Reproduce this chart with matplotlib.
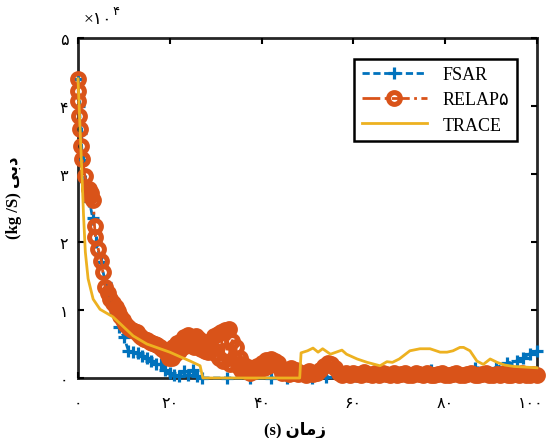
import numpy as np
import matplotlib
matplotlib.use('Agg')
import matplotlib.pyplot as plt
import matplotlib.transforms as mtransforms

# valores em unidades de 10^4 kg/s
fsar_t = [0, 0.3, 0.6, 1.0, 1.5, 2.5, 3.2, 4.0, 5.0, 6.0, 7.0, 8.0, 9.0, 10.0, 11.0, 12.0,
          13.0, 14.0, 15.0, 16.0, 17.0, 18.0, 19.0, 20.0, 21.0, 22.0, 23.0, 24.0, 25.0, 26.0,
          27.0, 32.5, 37.5, 42.0, 45.5, 51.0, 54.0, 60.5, 66.0, 71.0, 77.0, 82.0, 86.5,
          91.0, 93.5, 95.6, 97.0, 98.5, 100.0]
fsar_y = [4.40, 4.00, 3.60, 3.20, 2.90, 2.60, 2.35, 2.00, 1.70, 1.40, 1.15, 0.95, 0.75, 0.60,
          0.40, 0.38, 0.37, 0.33, 0.30, 0.25, 0.20, 0.20, 0.12, 0.08, 0.05, 0.03, 0.10, 0.05,
          0.12, 0.03, 0.00, 0.00, 0.00, 0.00, 0.00, 0.00, 0.02, 0.03, 0.06, 0.08, 0.12, 0.08,
          0.15, 0.15, 0.22, 0.25, 0.30, 0.36, 0.40]

relap_t = [0, 0.05, 0.1, 0.2, 0.4, 0.6, 0.9, 1.5, 2.3, 2.6, 2.9, 3.3, 3.6, 3.8, 4.4, 5.1,
           5.4, 5.9, 6.5, 7.0, 7.6, 8.2, 8.7, 9.2, 9.7, 10.2, 10.7, 11.2, 11.7, 12.2, 12.8,
           13.3, 13.8, 14.4, 15.0, 15.6, 16.2, 16.7, 17.2, 17.8, 18.3, 18.9, 19.4, 19.9,
           20.4, 20.8, 21.2, 21.6, 22.0, 22.4, 22.8, 23.2, 23.6, 24.0, 24.4, 24.8, 25.2,
           25.6, 26.0, 26.4, 26.8, 27.2, 27.6, 28.0, 28.4, 28.8, 29.2, 29.6, 30.0, 30.4,
           30.8, 31.2, 31.6, 32.0, 32.4, 32.8, 33.2, 33.6, 34.0, 34.4, 34.8, 35.2, 35.6,
           36.0, 36.5, 37.0, 37.5, 38.0, 38.5, 39.0, 39.5, 40.0, 40.5, 41.0, 41.5, 42.0,
           42.5, 43.0, 43.5, 44.0, 44.5, 45.0, 45.5, 46.0, 46.5, 47.0, 47.5, 48.0,
           48.8, 49.6, 50.4, 51.2, 52.0, 52.8, 53.6, 54.4, 55.2, 56.0, 56.8, 57.6, 58.4,
           59.2, 60.0, 60.8, 61.6, 62.4, 63.2, 64.0, 64.8, 65.6, 66.4, 67.2, 68.0, 68.8,
           69.6, 70.4, 71.2, 72.0, 72.8, 73.6, 74.4, 75.2, 76.0, 76.8, 77.6, 78.4, 79.2,
           80.0, 80.8, 81.6, 82.4, 83.2, 84.0, 84.8, 85.6, 86.4, 87.2, 88.0, 88.8, 89.6,
           90.4, 91.2, 92.0, 92.8, 93.6, 94.4, 95.2, 96.0, 96.8, 97.6, 98.4, 99.2, 100.0]
relap_y = [4.40, 4.22, 4.07, 3.85, 3.66, 3.41, 3.22, 2.97, 2.78, 2.68, 2.72, 2.62, 2.24, 2.07,
           1.90, 1.72, 1.56, 1.34, 1.25, 1.16, 1.10, 1.05, 0.98, 0.91, 0.86, 0.80, 0.76, 0.73,
           0.71, 0.69, 0.67, 0.63, 0.61, 0.58, 0.56, 0.53, 0.52, 0.50, 0.48, 0.45, 0.42, 0.39,
           0.36, 0.30, 0.30, 0.45, 0.35, 0.52, 0.40, 0.55, 0.45, 0.60, 0.50, 0.63, 0.48, 0.60,
           0.45, 0.62, 0.50, 0.58, 0.42, 0.52, 0.40, 0.50, 0.38, 0.55, 0.42, 0.62, 0.35, 0.65,
           0.30, 0.68, 0.25, 0.70, 0.40, 0.72, 0.20, 0.55, 0.30, 0.45, 0.18, 0.30, 0.12, 0.20,
           0.10, 0.16, 0.08, 0.14, 0.10, 0.18, 0.12, 0.22, 0.15, 0.26, 0.18, 0.28, 0.20, 0.25,
           0.22, 0.15, 0.08, 0.10, 0.12, 0.06, 0.14, 0.08, 0.12, 0.06,
           0.08, 0.05, 0.10, 0.06, 0.08, 0.12, 0.18, 0.22, 0.20, 0.14, 0.08, 0.05, 0.07,
           0.04, 0.08, 0.06, 0.05, 0.09, 0.06, 0.04, 0.07, 0.05, 0.08, 0.06, 0.04, 0.07,
           0.05, 0.06, 0.08, 0.05, 0.04, 0.07, 0.06, 0.05, 0.08, 0.05, 0.04, 0.06, 0.07,
           0.05, 0.04, 0.06, 0.08, 0.05, 0.04, 0.06, 0.07, 0.05, 0.04, 0.06, 0.08, 0.05,
           0.04, 0.06, 0.05, 0.07, 0.05, 0.04, 0.06, 0.05, 0.07, 0.05, 0.04, 0.06, 0.05]

trace_t = [0, 0.8, 1.2, 1.6, 2.2, 3.3, 4.8, 7.6, 9.8, 12.0, 15.0, 17.9, 20.0, 22.0, 24.4,
           26.6, 27.2, 42.0, 48.3, 48.6, 50.0, 51.2, 52.3, 53.3, 55.0, 57.5, 58.5, 60.8,
           63.0, 65.8, 67.3, 68.5, 70.0, 72.3, 74.5, 76.7, 78.9, 80.4, 81.7, 83.2, 84.0,
           85.4, 86.9, 88.3, 89.8, 91.3, 93.0, 95.0, 97.5, 100.0]
trace_y = [4.40, 3.10, 2.40, 1.85, 1.46, 1.16, 1.01, 0.90, 0.76, 0.62, 0.50, 0.43, 0.38, 0.32,
           0.25, 0.18, 0.00, 0.00, 0.00, 0.37, 0.40, 0.44, 0.38, 0.43, 0.35, 0.41, 0.35, 0.28,
           0.23, 0.18, 0.24, 0.23, 0.28, 0.40, 0.43, 0.43, 0.38, 0.38, 0.40, 0.45, 0.45, 0.40,
           0.25, 0.20, 0.28, 0.23, 0.19, 0.17, 0.16, 0.15]

x_ticks = [0, 20, 40, 60, 80, 100]
x_labels = ['۰', '۲۰', '۴۰', '۶۰', '۸۰', '۱۰۰']
y_ticks = [0, 1, 2, 3, 4, 5]
y_labels = ['۰', '۱', '۲', '۳', '۴', '۵']

fonte = ['Liberation Serif', 'DejaVu Sans']
plt.rcParams['font.family'] = fonte

fig = plt.figure(figsize=(5.47, 4.39), dpi=100)
ax = fig.add_axes([78 / 547, 1 - 379 / 439, 459 / 547, 340 / 439])

# como no MATLAB, os marcadores não são cortados na borda dos eixos
ax.plot(fsar_t, fsar_y, color='#0072BD', linestyle='--', dashes=(2.6, 1.3), linewidth=2,
        marker='+', markersize=8.5, markeredgewidth=2.3, label='FSAR', clip_on=False)
ax.plot(relap_t, relap_y, color='#D95319', linestyle='-.', linewidth=2,
        marker='o', markersize=8.5, markeredgewidth=3.6, markerfacecolor='none', label='RELAP۵',
        clip_on=False)
ax.plot(trace_t, trace_y, color='#EDB120', linestyle='-', linewidth=2, label='TRACE', clip_on=False)

ax.set_xlim(0, 100)
ax.set_ylim(0, 5)
ax.set_xticks(x_ticks)
ax.set_xticklabels(x_labels)
ax.set_yticks(y_ticks)
ax.set_yticklabels(y_labels)
ax.tick_params(direction='in', length=4, width=1.5, top=True, right=True, labelsize=11.5)
ax.tick_params(axis='x', pad=12)
ax.tick_params(axis='y', pad=7)
for s in ax.spines.values():
    s.set_linewidth(2)
    s.set_color('#262626')
    s.set_zorder(1)

# último rótulo do eixo x um pouco para a esquerda, para não cortar
ultimo = ax.get_xticklabels()[-1]
ultimo.set_transform(ultimo.get_transform() + mtransforms.ScaledTranslation(-6 / 100, 0, fig.dpi_scale_trans))

leg = ax.legend(loc='upper right', bbox_to_anchor=(0.956, 0.938), borderaxespad=0,
                fancybox=False, framealpha=1, edgecolor='black', handlelength=3.6,
                handletextpad=0.9, prop={'family': fonte, 'size': 13}, labelspacing=0.45)
leg.get_frame().set_linewidth(1.8)

# rótulos em persa (formas de apresentação, ordem visual)
fig.text(295 / 547, 1 - 431 / 439, '(s) ﻥﺎﻣﺯ', ha='center', va='center',
         fontsize=12, fontweight='bold', family=fonte)
fig.text(14 / 547, 1 - 198 / 439, '(kg /S) ﻰﺑﺩ', ha='center', va='center', rotation=90,
         fontsize=12, fontweight='bold', family=fonte)
fig.text(84 / 547, 1 - 20 / 439, '×۱۰', ha='left', va='center', fontsize=12.5, family=fonte)
fig.text(112 / 547, 1 - 12 / 439, '۴', ha='left', va='center', fontsize=9.5, family=fonte)

plt.savefig('out.png', dpi=100)
